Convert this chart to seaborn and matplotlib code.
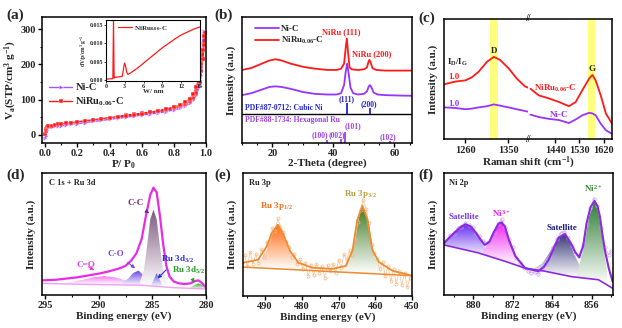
import numpy as np
import matplotlib
matplotlib.use("Agg")
import matplotlib.pyplot as plt
import seaborn as sns
from matplotlib.colors import LinearSegmentedColormap
from matplotlib.patches import Polygon
from matplotlib.ticker import MultipleLocator

# -----------------------------
# (a) N2 isotherms
# -----------------------------
nic_p = [0.001, 0.003, 0.006, 0.01, 0.02, 0.04, 0.06, 0.08, 0.10, 0.13, 0.16, 0.20, 0.25, 0.30, 0.35,
         0.40, 0.45, 0.50, 0.55, 0.60, 0.65, 0.70, 0.75, 0.80, 0.84, 0.87, 0.90, 0.92, 0.94, 0.96,
         0.97, 0.98, 0.985, 0.99,
         0.985, 0.98, 0.97, 0.96, 0.94, 0.92, 0.90, 0.87, 0.84, 0.80, 0.75, 0.70, 0.65, 0.60, 0.55,
         0.50, 0.45]
nic_v = [-8, -3, 8, 14, 19, 22, 24, 25, 26, 28, 30, 32, 35, 38, 41,
         44, 47, 50, 53, 56, 59, 62, 66, 71, 76, 82, 90, 98, 112, 140,
         170, 220, 280, 295,
         290, 260, 205, 165, 125, 105, 95, 86, 80, 75, 69, 64, 60, 57, 54,
         51, 48]
niru_p = [0.001, 0.003, 0.006, 0.01, 0.02, 0.04, 0.06, 0.08, 0.10, 0.13, 0.16, 0.20, 0.25, 0.30, 0.35,
          0.40, 0.45, 0.50, 0.55, 0.60, 0.65, 0.70, 0.75, 0.80, 0.84, 0.87, 0.90, 0.92, 0.94, 0.96,
          0.97, 0.98, 0.99, 0.995,
          0.99, 0.98, 0.97, 0.96, 0.94, 0.92, 0.90, 0.87, 0.84, 0.80, 0.75, 0.70, 0.65, 0.60, 0.55,
          0.50, 0.45]
niru_v = [2, 12, 18, 21, 24, 26, 28, 30, 31, 33, 35, 37, 40, 43, 46,
          49, 52, 55, 58, 61, 64, 67, 71, 76, 81, 87, 96, 105, 120, 150,
          180, 215, 255, 290,
          280, 240, 200, 170, 135, 115, 103, 92, 85, 79, 73, 68, 64, 60, 57,
          54, 51]

# inset pore size distribution
pore_w = [0, 0.6, 1.0, 1.1, 1.2, 1.3, 1.4, 2.0, 2.6, 2.8, 2.95, 3.1, 3.3, 3.5, 4.0,
          5, 6, 7, 8, 9, 10, 11, 12, 13, 14, 15]
pore_dv = [0.0002, 0.0003, 0.0003, 0.0005, 0.0162, 0.0005, 0.0007, 0.0008, 0.001, 0.003, 0.0046,
           0.004, 0.0022, 0.0015, 0.002, 0.0032, 0.0046, 0.006, 0.0074, 0.0088, 0.01, 0.0112,
           0.0123, 0.0131, 0.0139, 0.0145]

# -----------------------------
# (b) XRD
# -----------------------------
niru_theta = [10, 13, 16, 19, 21, 23, 26, 30, 34, 38, 41, 42.5, 43.5, 44.0, 44.4, 44.8, 45.3, 46, 48,
              50, 51.0, 51.5, 51.8, 52.2, 52.8, 54, 57, 60, 63, 65.7]
niru_xrd = [5.8, 5.95, 6.25, 6.55, 6.65, 6.55, 6.3, 6.05, 5.9, 5.8, 5.8, 5.9, 6.3, 7.5, 8.3, 7.2, 6.0,
            5.85, 5.8, 5.85, 6.0, 6.45, 6.6, 6.4, 5.95, 5.8, 5.75, 5.75, 5.75, 5.75]
nic_theta = [10, 13, 16, 19, 21, 23, 26, 30, 34, 38, 41, 42.5, 43.5, 44.0, 44.5, 45.0, 45.6, 46.5, 48,
             50, 51.0, 51.6, 52.0, 52.5, 53.2, 54.5, 57, 60, 63, 65.7]
nic_xrd = [3.8, 3.95, 4.2, 4.45, 4.5, 4.45, 4.3, 4.05, 3.9, 3.85, 3.85, 3.95, 4.6, 5.6, 6.3, 5.5, 4.4,
           3.95, 3.85, 3.9, 4.1, 4.5, 4.6, 4.4, 4.0, 3.85, 3.8, 3.78, 3.76, 3.75]
ni_pdf_pos = [44.5, 51.9]
ni_pdf_top = [3.15, 2.75]
ni_pdf_hkl = ["(111)", "(200)"]
ru_pdf_pos = [38.0, 42.6, 43.8, 58.6]
ru_pdf_top = [0.25, 0.35, 0.9, 0.15]
ru_pdf_hkl = ["(100)", "(002)", "(101)", "(102)"]
ru_lab_x = [35.6, 41.1, 46.3, 58.0]
ru_lab_y = [0.63, 0.63, 1.3, 0.5]

# -----------------------------
# (c) Raman (broken axis)
# -----------------------------
raman_left = [1216, 1219, 1240, 1261, 1274, 1288, 1306, 1320, 1333, 1351, 1368, 1385, 1391]
niru_raman_left = [4.55, 4.6, 4.8, 4.9, 5.15, 5.6, 6.45, 6.85, 6.6, 5.9, 5.05, 4.4, 4.3]
nic_raman_left = [2.65, 2.65, 2.6, 2.5, 2.55, 2.65, 2.75, 2.9, 2.8, 2.65, 2.5, 2.35, 2.3]
raman_right = [1348, 1379, 1416, 1454, 1491, 1516, 1541, 1566, 1578, 1590, 1609, 1628, 1651]
niru_raman_right = [4.2, 3.65, 3.4, 3.1, 2.75, 3.1, 4.1, 5.05, 5.35, 4.9, 3.65, 2.15, 1.3]
nic_raman_right = [2.05, 1.85, 1.7, 1.6, 1.35, 1.65, 2.0, 2.2, 2.15, 2.0, 1.3, 0.75, 0.45]

# -----------------------------
# (d) C 1s + Ru 3d XPS
# -----------------------------
c1s_be = [295.3, 294, 293, 292, 291, 290, 289, 288, 287.5, 287, 286.5, 286, 285.6, 285.2, 284.9,
          284.6, 284.3, 284.0, 283.7, 283.4, 283, 282.5, 282, 281.5, 281, 280.7, 280.4, 280.1]
c1s_env = [1.2, 1.25, 1.35, 1.45, 1.6, 1.75, 1.95, 2.2, 2.4, 2.8, 3.4, 4.6, 6.5, 8.2, 8.8,
           8.4, 6.5, 4.2, 2.4, 1.5, 1.1, 0.95, 0.9, 0.95, 1.15, 1.2, 1.0, 0.7]
c1s_bg_be = [295.3, 290, 286, 283, 280.1]
c1s_bg = [0.95, 0.85, 0.8, 0.6, 0.5]
cc_be = [286.2, 285.8, 285.5, 285.2, 284.9, 284.6, 284.3, 284.0, 283.6]
cc_int = [1.0, 2.0, 4.0, 6.2, 7.0, 6.2, 4.0, 2.0, 0.9]
co_be = [287.8, 287.2, 286.8, 286.3, 285.8, 285.4]
co_int = [1.0, 1.4, 1.8, 2.0, 1.6, 1.0]
cdo_be = [293, 291.5, 290.5, 289.5, 288.5, 287.5, 286.8]
cdo_int = [1.0, 1.25, 1.45, 1.55, 1.45, 1.2, 0.95]
ru3d3_be = [285.1, 284.8, 284.6, 284.4, 284.1]
ru3d3_int = [0.85, 1.4, 1.8, 1.4, 0.85]
ru3d5_be = [281.5, 281.0, 280.7, 280.4, 280.1]
ru3d5_int = [0.6, 0.85, 0.95, 0.85, 0.6]

# -----------------------------
# (e) Ru 3p XPS
# -----------------------------
ru3p_be = [496, 491.9, 489.5, 488.2, 486.5, 485, 483.2, 480.9, 477.2, 471.7, 468, 466.2, 464.9,
           463.5, 462.1, 460.8, 459, 455.3, 450]
ru3p_env = [2.7, 2.95, 4.05, 5.1, 5.8, 5.0, 3.65, 2.7, 2.3, 2.2, 2.45, 3.7, 6.2,
            7.35, 6.2, 3.75, 2.75, 2.05, 1.65]
ru3p_bg_be = [496, 450]
ru3p_bg = [2.35, 1.65]
ru3p_raw_be = [495.5, 494.8, 494.0, 493.3, 492.5, 491.8, 491.0, 490.3, 489.5, 488.8, 488.0, 487.3,
               486.5, 485.8, 485.0, 484.3, 483.5, 482.8, 482.0, 481.3, 480.5, 479.8, 479.0, 478.3,
               477.5, 476.8, 476.0, 475.3, 474.5, 473.8, 473.0, 472.3, 471.5, 470.8, 470.0, 469.3,
               468.5, 467.8, 467.0, 466.3, 465.5, 464.8, 464.0, 463.3, 462.5, 461.8, 461.0, 460.3,
               459.5, 458.8, 458.0, 457.3, 456.5, 455.8, 455.0, 454.3, 453.5, 452.8, 452.0, 451.3,
               450.5]
ru3p_raw = [3.3, 2.4, 3.6, 2.6, 3.4, 2.7, 3.8, 3.2, 4.4, 4.3, 5.5, 5.3,
            6.3, 5.6, 5.2, 4.4, 4.0, 3.2, 3.4, 2.6, 3.0, 2.2, 2.7, 1.6,
            2.5, 1.7, 2.6, 1.9, 2.4, 1.5, 2.5, 2.0, 2.6, 1.9, 2.9, 2.3,
            3.4, 2.9, 3.7, 3.3, 4.6, 6.0, 7.0, 7.8, 7.1, 5.9, 4.2, 3.5,
            3.0, 2.2, 2.8, 1.6, 2.4, 1.2, 2.2, 1.0, 2.0, 0.9, 1.9, 0.7,
            1.5]
ru3p12_be = [492, 490, 488.5, 487.5, 486.5, 485.5, 484.5, 483, 481, 479]
ru3p12_int = [2.65, 3.4, 4.6, 5.5, 5.8, 5.4, 4.5, 3.3, 2.6, 2.3]
ru3p32_be = [469, 467, 465.5, 464.5, 463.5, 462.5, 461.5, 460, 458]
ru3p32_int = [2.25, 2.8, 4.6, 6.4, 7.35, 6.6, 4.9, 3.0, 2.1]

# -----------------------------
# (f) Ni 2p XPS
# -----------------------------
ni2p_be = [886, 884.8, 883.6, 882.5, 881.6, 880.5, 879.5, 878.5, 877.7, 876.8, 875.8, 874.9, 874.3,
           873.6, 872.8, 871.5, 869.5, 866.8, 865.7, 864.7, 863.6, 862.7, 861.4, 860.2, 859.3,
           858.5, 857.7, 857.0, 856.2, 855.4, 854.8, 854.3, 853.8, 853.3, 852.5, 851.7]
ni2p_env = [4.25, 4.75, 5.2, 5.6, 5.8, 5.6, 5.1, 4.5, 4.1, 4.35, 5.2, 5.85, 5.95,
            5.6, 4.5, 3.2, 2.2, 1.95, 2.3, 2.9, 3.9, 4.7, 5.0, 4.25, 3.5,
            3.1, 4.0, 5.9, 7.2, 7.7, 7.3, 6.45, 5.0, 3.7, 2.2, 1.1]
ni2p_bg_be = [886, 879.0, 873.5, 869.5, 865.5, 860, 854.6, 851.7]
ni2p_bg = [4.1, 3.45, 2.75, 2.2, 1.95, 1.5, 1.25, 0.55]
ni2p_raw_be = [885.5, 884.8, 884.0, 883.2, 882.5, 881.8, 881.0, 880.2, 879.5, 878.8, 878.0, 877.3,
               876.5, 875.8, 875.0, 874.3, 873.5, 872.8, 872.0, 871.3, 870.5, 869.8, 869.0, 868.3,
               867.5, 866.8, 866.0, 865.3, 864.5, 863.8, 863.0, 862.3, 861.5, 860.8, 860.0, 859.3,
               858.5, 857.8, 857.0, 856.3, 855.5, 854.8, 854.0, 853.3, 852.5, 852.0]
ni2p_raw = [4.4, 4.9, 5.0, 5.5, 5.6, 5.9, 5.7, 5.6, 5.0, 4.8, 4.4, 4.3,
            4.5, 5.2, 5.8, 6.2, 5.6, 4.6, 3.9, 3.0, 2.6, 2.2, 2.0, 1.8,
            1.9, 1.7, 2.2, 2.5, 3.2, 3.9, 4.6, 5.1, 5.2, 4.7, 4.0, 3.4,
            3.2, 4.1, 5.8, 7.1, 7.9, 7.3, 5.5, 3.9, 3.3, 3.6]
sat1_be = [886, 884, 882.5, 881.5, 880.5, 879, 877.5, 876]
sat1_int = [4.25, 5.2, 5.7, 5.8, 5.6, 4.8, 3.8, 3.2]
ni3_be = [878, 876.5, 875.5, 874.3, 873, 872, 870.5]
ni3_int = [3.6, 4.6, 5.6, 5.95, 5.0, 3.8, 2.6]
sat2_be = [868, 866, 864.5, 863, 861.5, 860.5, 859.5, 858]
sat2_int = [2.1, 2.6, 3.5, 4.6, 5.0, 4.5, 3.3, 2.1]
ni2_be = [859, 857.5, 856.5, 855.4, 854.5, 853.5, 852.8]
ni2_int = [1.6, 4.0, 6.4, 7.7, 6.7, 3.9, 1.8]

NIC = "#9933FF"
NIRU = "#FF1A1A"

sns.set_theme(style="ticks")
plt.rcParams["font.family"] = ["Liberation Serif", "DejaVu Serif"]
plt.rcParams["font.weight"] = "bold"
plt.rcParams["axes.labelweight"] = "bold"
plt.rcParams["mathtext.default"] = "regular"
plt.rcParams["axes.linewidth"] = 1.1
plt.rcParams["axes.edgecolor"] = "black"
plt.rcParams["xtick.labelsize"] = 7.5
plt.rcParams["ytick.labelsize"] = 7.5
plt.rcParams["axes.labelsize"] = 8


def style_ticks(ax):
    ax.tick_params(which="major", direction="out", length=3, width=1, pad=1.5, color="black")
    ax.tick_params(which="minor", direction="out", length=1.6, width=0.8, color="black")


def gradient_fill(ax, x, top, bottom, color, z=2):
    x = np.asarray(x, float)
    top = np.asarray(top, float)
    bottom = np.asarray(bottom, float)
    verts = np.column_stack([np.r_[x, x[::-1]], np.r_[top, bottom[::-1]]])
    poly = Polygon(verts, closed=True, facecolor="none", edgecolor="none")
    ax.add_patch(poly)
    cmap = LinearSegmentedColormap.from_list("g", ["white", color])
    grad = np.linspace(0, 1, 64).reshape(-1, 1)
    im = ax.imshow(grad, cmap=cmap, aspect="auto", origin="lower",
                   extent=[x.min(), x.max(), bottom.min(), top.max()], zorder=z)
    im.set_clip_path(poly)


def component(ax, be, inten, bg_be, bg, color, z=2):
    be = np.asarray(be, float)
    base = np.interp(be, np.asarray(bg_be)[::-1], np.asarray(bg)[::-1])
    gradient_fill(ax, be, inten, base, color, z)


fig = plt.figure(figsize=(6.22, 3.28), dpi=100)

# ---------- (a)
ax_a = fig.add_axes([0.0675, 0.564, 0.2637, 0.384])
sns.lineplot(x=nic_p, y=nic_v, sort=False, estimator=None, ax=ax_a, color=NIC, lw=1.0,
             marker=">", markersize=3, markeredgewidth=0.3, label="Ni-C", alpha=0.85)
sns.lineplot(x=niru_p, y=niru_v, sort=False, estimator=None, ax=ax_a, color=NIRU, lw=1.0,
             marker="s", markersize=2.2, markeredgewidth=0.3, label="NiRu$_{0.06}$-C")
ax_a.set_xlim(-0.02, 1.0)
ax_a.set_ylim(-23, 334)
ax_a.set_xticks([0.0, 0.2, 0.4, 0.6, 0.8, 1.0])
ax_a.set_yticks([0, 100, 200, 300])
ax_a.xaxis.set_minor_locator(MultipleLocator(0.1))
ax_a.yaxis.set_minor_locator(MultipleLocator(50))
style_ticks(ax_a)
ax_a.set_xlabel("P/ P$_0$", labelpad=0)
ax_a.set_ylabel("V$_a$(STP/cm$^3$ g$^{-1}$)", labelpad=1)
ax_a.legend(loc="lower left", bbox_to_anchor=(0.0, 0.22), frameon=False, fontsize=7.5,
            handlelength=2.2, handletextpad=0.3, labelspacing=0.3, borderpad=0.2)

ax_in = fig.add_axes([0.1704, 0.753, 0.151, 0.186])
sns.lineplot(x=pore_w, y=pore_dv, sort=False, estimator=None, ax=ax_in, color=NIRU, lw=0.9,
             label="NiRu$_{0.06}$-C")
ax_in.set_xlim(0, 15)
ax_in.set_ylim(-0.0003, 0.0164)
ax_in.set_xticks([0, 3, 6, 9, 12, 15])
ax_in.set_yticks([0.0, 0.005, 0.010, 0.015])
ax_in.set_yticklabels(["0.000", "0.005", "0.010", "0.015"])
ax_in.tick_params(labelsize=4.3, length=1.5, width=0.6, pad=0.6, direction="out")
for s in ax_in.spines.values():
    s.set_linewidth(0.8)
ax_in.set_xlabel("W/ nm", fontsize=5, labelpad=0)
ax_in.set_ylabel("dV/p/cm$^3$ g$^{-1}$", fontsize=4, labelpad=0.5)
ax_in.legend(loc="upper left", bbox_to_anchor=(0.08, 1.02), frameon=False, fontsize=5,
             handlelength=2.0, handletextpad=0.3, borderpad=0.2)

# ---------- (b)
ax_b = fig.add_axes([0.389, 0.564, 0.273, 0.384])
sns.lineplot(x=nic_theta, y=nic_xrd, sort=False, estimator=None, ax=ax_b, color=NIC, lw=1.3,
             label="Ni-C")
sns.lineplot(x=niru_theta, y=niru_xrd, sort=False, estimator=None, ax=ax_b, color=NIRU, lw=1.3,
             label="NiRu$_{0.06}$-C")
ax_b.axhline(2.3, color="black", lw=1.0)
ax_b.vlines(ni_pdf_pos, 2.3, ni_pdf_top, color="#2222DD", lw=1.3)
ax_b.vlines(ru_pdf_pos, 0, ru_pdf_top, color="#A040E8", lw=1.3)
for pos, top, hkl in zip(ni_pdf_pos, ni_pdf_top, ni_pdf_hkl):
    ax_b.text(pos - 0.3, top + 0.05, hkl, color="#2222DD", fontsize=5.5, ha="center", va="bottom")
for lx, ly, hkl in zip(ru_lab_x, ru_lab_y, ru_pdf_hkl):
    ax_b.text(lx, ly, hkl, color="#A040E8", fontsize=5.5, ha="center", va="center")
ax_b.text(11.0, 2.8, "PDF#87-0712: Cubic Ni", color="#2222DD", fontsize=5.5, va="center")
ax_b.text(11.0, 1.85, "PDF#88-1734: Hexagonal Ru", color="#A040E8", fontsize=5.5, va="center")
ax_b.text(42.7, 8.8, "NiRu (111)", color=NIRU, fontsize=6, ha="center", va="center")
ax_b.text(52.5, 7.05, "NiRu (200)", color=NIRU, fontsize=6, ha="center", va="center")
ax_b.set_xlim(10, 65.7)
ax_b.set_ylim(0, 10)
ax_b.set_yticks([])
ax_b.xaxis.set_minor_locator(MultipleLocator(5))
style_ticks(ax_b)
ax_b.set_xlabel("2-Theta (degree)", labelpad=0)
ax_b.set_ylabel("Intensity (a.u.)", labelpad=4)
ax_b.legend(loc="upper left", bbox_to_anchor=(0.04, 0.99), frameon=False, fontsize=6.5,
            handlelength=2.6, handletextpad=0.3, labelspacing=0.2, borderpad=0.2)

# ---------- (c)
ax_c1 = fig.add_axes([0.7138, 0.5753, 0.1355, 0.3668])
ax_c2 = fig.add_axes([0.8494, 0.5753, 0.1346, 0.3668])
ax_c1.axvspan(1312, 1329, color="#FFFF66", alpha=0.85, lw=0, zorder=0)
ax_c2.axvspan(1563, 1586, color="#FFFF66", alpha=0.85, lw=0, zorder=0)
sns.lineplot(x=raman_left, y=niru_raman_left, ax=ax_c1, color=NIRU, lw=1.3, estimator=None)
sns.lineplot(x=raman_left, y=nic_raman_left, ax=ax_c1, color=NIC, lw=1.3, estimator=None)
sns.lineplot(x=raman_right, y=niru_raman_right, ax=ax_c2, color=NIRU, lw=1.3, estimator=None)
sns.lineplot(x=raman_right, y=nic_raman_right, ax=ax_c2, color=NIC, lw=1.3, estimator=None)
ax_c1.set_xlim(1216, 1392)
ax_c2.set_xlim(1340, 1651)
for ax in (ax_c1, ax_c2):
    ax.set_ylim(0, 10)
    ax.set_yticks([])
    ax.set_xlabel("")
    style_ticks(ax)
ax_c1.set_xticks([1260, 1350])
ax_c2.set_xticks([1440, 1530, 1620])
ax_c1.spines["right"].set_visible(False)
ax_c2.spines["left"].set_visible(False)
ax_c1.set_ylabel("Intensity (a.u.)", labelpad=4)
for yy in (0, 1):
    ax_c2.text(0, yy, "//", transform=ax_c2.transAxes, fontsize=7, ha="center", va="center")
ax_c1.text(1320, 7.3, "D", fontsize=6.5, ha="center", va="center")
ax_c2.text(1578, 5.85, "G", fontsize=6.5, ha="center", va="center")
ax_c1.text(1222, 6.4, "I$_D$/I$_G$", fontsize=6.5, va="center")
ax_c1.text(1224, 5.15, "1.0", color=NIRU, fontsize=6.5, va="center")
ax_c1.text(1224, 2.95, "1.0", color=NIC, fontsize=6.5, va="center")
ax_c2.text(1441, 4.2, "NiRu$_{0.06}$-C", color=NIRU, fontsize=6.5, ha="center", va="center")
ax_c2.text(1454, 2.0, "Ni-C", color=NIC, fontsize=6.5, ha="center", va="center")
fig.text(0.849, 0.527, "Raman shift (cm$^{-1}$)", fontsize=8, ha="center", va="top")

# ---------- (d)
ax_d = fig.add_axes([0.0675, 0.1006, 0.2637, 0.372])
component(ax_d, cdo_be, cdo_int, c1s_bg_be, c1s_bg, "#F070F0")
component(ax_d, co_be, co_int, c1s_bg_be, c1s_bg, "#6A40E8")
component(ax_d, cc_be, cc_int, c1s_bg_be, c1s_bg, "#7E5A80")
component(ax_d, ru3d3_be, ru3d3_int, c1s_bg_be, c1s_bg, "#5A5AE0")
component(ax_d, ru3d5_be, ru3d5_int, c1s_bg_be, c1s_bg, "#2E9A2E")
sns.lineplot(x=c1s_bg_be, y=c1s_bg, sort=False, estimator=None, ax=ax_d, color="#F0A0F0", lw=1.0)
sns.lineplot(x=c1s_be, y=c1s_env, sort=False, estimator=None, ax=ax_d, color="#E62CE6", lw=1.6)
ax_d.set_xlim(295.3, 280.0)
ax_d.set_ylim(0, 10)
ax_d.set_yticks([])
ax_d.set_xticks([295, 290, 285, 280])
ax_d.xaxis.set_minor_locator(MultipleLocator(2.5))
style_ticks(ax_d)
ax_d.set_xlabel("Binding energy (eV)", labelpad=1)
ax_d.set_ylabel("Intensity (a.u.)", labelpad=4)
ax_d.text(294.6, 9.2, "C 1s + Ru 3d", fontsize=6, va="center")
arr = dict(arrowstyle="-|>", lw=0.8, mutation_scale=5)
ax_d.annotate("C-C", xy=(285.3, 6.7), xytext=(286.6, 7.5), color="#7A2A7A", fontsize=6.5,
              ha="center", va="center", arrowprops=dict(arr, color="#7A2A7A"))
ax_d.annotate("C-O", xy=(286.4, 2.05), xytext=(288.4, 3.4), color="#7B4AE0", fontsize=6.5,
              ha="center", va="center", arrowprops=dict(arr, color="#7B4AE0"))
ax_d.annotate("C=O", xy=(290.2, 1.9), xytext=(291.2, 2.45), color="#E040E0", fontsize=6.5,
              ha="center", va="center", arrowprops=dict(arr, color="#E040E0"))
ax_d.annotate("Ru 3d$_{3/2}$", xy=(284.7, 1.2), xytext=(282.7, 2.95), color="#2A2AE0", fontsize=6.5,
              ha="center", va="center", arrowprops=dict(arr, color="#2A2AE0"))
ax_d.annotate("Ru 3d$_{5/2}$", xy=(281.0, 0.8), xytext=(281.6, 2.0), color="#2A9A2A", fontsize=6.5,
              ha="center", va="center", arrowprops=dict(arr, color="#2A9A2A"))

# ---------- (e)
ax_e = fig.add_axes([0.3907, 0.0976, 0.2717, 0.375])
component(ax_e, ru3p12_be, ru3p12_int, ru3p_bg_be, ru3p_bg, "#FF6A10")
component(ax_e, ru3p32_be, ru3p32_int, ru3p_bg_be, ru3p_bg, "#3E7A20")
sns.lineplot(x=ru3p_raw_be, y=ru3p_raw, sort=False, estimator=None, ax=ax_e, color="#F9C89A",
             lw=0.6, marker="o", markersize=2.2, markerfacecolor="none", markeredgecolor="#F5B880",
             markeredgewidth=0.5)
sns.lineplot(x=ru3p_bg_be, y=ru3p_bg, sort=False, estimator=None, ax=ax_e, color="#F08A30", lw=1.1)
sns.lineplot(x=ru3p_be, y=ru3p_env, sort=False, estimator=None, ax=ax_e, color="#F08A30", lw=1.3)
ax_e.set_xlim(496, 450)
ax_e.set_ylim(0, 10)
ax_e.set_yticks([])
ax_e.set_xticks([490, 480, 470, 460, 450])
ax_e.xaxis.set_minor_locator(MultipleLocator(5))
style_ticks(ax_e)
ax_e.set_xlabel("Binding energy (eV)", labelpad=1)
ax_e.set_ylabel("Intensity (a.u.)", labelpad=4)
ax_e.text(494.5, 9.2, "Ru 3p", fontsize=6, va="center")
ax_e.text(486.8, 7.3, "Ru 3p$_{1/2}$", color="#F07020", fontsize=6.5, ha="center", va="center")
ax_e.text(464.0, 8.3, "Ru 3p$_{3/2}$", color="#B8A040", fontsize=6.5, ha="center", va="center")

# ---------- (f)
ax_f = fig.add_axes([0.7138, 0.1006, 0.2712, 0.372])
component(ax_f, sat1_be, sat1_int, ni2p_bg_be, ni2p_bg, "#6A30F0")
component(ax_f, ni3_be, ni3_int, ni2p_bg_be, ni2p_bg, "#F020F0")
component(ax_f, sat2_be, sat2_int, ni2p_bg_be, ni2p_bg, "#3A3A7A")
component(ax_f, ni2_be, ni2_int, ni2p_bg_be, ni2p_bg, "#2E7D32")
sns.lineplot(x=ni2p_raw_be, y=ni2p_raw, sort=False, estimator=None, ax=ax_f, color="#D6B8F5",
             lw=0.6, marker="o", markersize=2.4, markerfacecolor="none", markeredgecolor="#C8A0F0",
             markeredgewidth=0.5)
sns.lineplot(x=ni2p_bg_be, y=ni2p_bg, sort=False, estimator=None, ax=ax_f, color="#8A2BE2", lw=1.2)
sns.lineplot(x=ni2p_be, y=ni2p_env, sort=False, estimator=None, ax=ax_f, color="#8A2BE2", lw=1.5)
ax_f.set_xlim(886, 851.7)
ax_f.set_ylim(0, 10)
ax_f.set_yticks([])
ax_f.set_xticks([880, 872, 864, 856])
ax_f.xaxis.set_minor_locator(MultipleLocator(4))
style_ticks(ax_f)
ax_f.set_xlabel("Binding energy (eV)", labelpad=1)
ax_f.set_ylabel("Intensity (a.u.)", labelpad=4)
ax_f.text(885, 9.2, "Ni 2p", fontsize=6, va="center")
ax_f.text(882.0, 6.4, "Satellite", color="#7A3AE8", fontsize=6.5, ha="center", va="center")
ax_f.text(874.3, 6.7, "Ni$^{3+}$", color="#E020E0", fontsize=6.5, ha="center", va="center")
ax_f.text(862.0, 5.5, "Satellite", color="#1A1A80", fontsize=6.5, ha="center", va="center")
ax_f.text(855.6, 8.7, "Ni$^{2+}$", color="#2A8A2A", fontsize=6.5, ha="center", va="center")

for ax in (ax_c1, ax_c2, ax_d, ax_e, ax_f):
    if ax.get_legend() is not None:
        ax.get_legend().remove()

# panel letters
for lx, ly, lab in [(0.011, 0.955, "(a)"), (0.345, 0.955, "(b)"), (0.673, 0.945, "(c)"),
                    (0.011, 0.465, "(d)"), (0.345, 0.465, "(e)"), (0.673, 0.465, "(f)")]:
    fig.text(lx, ly, lab, fontsize=11, fontweight="bold", ha="left", va="center")

fig.savefig("out.png", dpi=100)
